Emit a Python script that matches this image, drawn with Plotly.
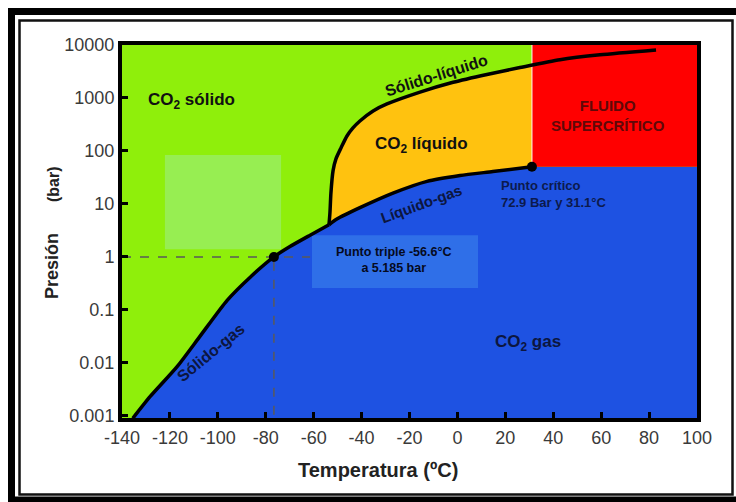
import math
import numpy as np
import plotly.graph_objects as go

# ---------------- data ----------------
# sublimation curve (solid-gas)
sg_temp = [-135.5, -128.3, -117.0, -107.4, -96.2, -86.6, -76.6, -69.9, -61.5, -53.6]
sg_pres = [0.0009, 0.0023, 0.0085, 0.032, 0.15, 0.41, 1.0, 1.57, 2.57, 4.05]
# vaporisation curve (liquid-gas)
lg_temp = [-53.6, -50.3, -40.7, -26.9, -12.7, 1.1, 14.8, 31.1]
lg_pres = [4.05, 5.2, 8.5, 16.0, 26.7, 34.4, 40.9, 50.4]
# melting curve (solid-liquid)
sl_temp = [-53.6, -53.2, -52.8, -51.9, -50.7, -48.6, -46.1, -43.6, -40.7, -35.2,
           -29.4, -15.6, -1.8, 12.3, 26.1, 42.8, 59.5, 82.9]
sl_pres = [4.05, 6.9, 16.0, 42.6, 71.0, 114.0, 192.0, 272.0, 368.0, 569.0,
           771.0, 1291.0, 1978.0, 2782.0, 3750.0, 5272.0, 6531.0, 8072.0]

subl_temp, subl_pres = -76.6, 1.0      # sublimation point at 1 bar
triple_temp, triple_pres = -53.6, 4.05
crit_temp, crit_pres = 31.1, 50.4

hl_box_temp = [-122.1, -73.6]
hl_box_pres = [1.39, 84.0]
info_box_temp = [-60.7, 8.6]
info_box_pres = [0.26, 2.57]
dash_end_temp = -61.5

x_ticks = [-140, -120, -100, -80, -60, -40, -20, 0, 20, 40, 60, 80, 100]
x_ticktext = ["-140", "-120", "-100", "-80", "-60", "-40", "-20", "0", "20", "40", "60", "80", "100"]
y_ticks = [0.001, 0.01, 0.1, 1, 10, 100, 1000, 10000]
y_ticktext = ["0.001", "0.01", "0.1", "1", "10", "100", "1000", "10000"]

# ---------------- styling ----------------
W, H = 736, 502
ML, MR, MT, MB = 122, 39, 45, 84
PW, PH = W - ML - MR, H - MT - MB

GREEN = "#8FEF0B"
LIGHT_GREEN = "#97EE52"
ORANGE = "#FFC20F"
RED = "#FF0000"
BLUE = "#1E52E2"
BOX_BLUE = "#2F6FE8"
FONT = "Liberation Sans, Arial, sans-serif"


def fx(px):
    return (px - ML) / PW


def fy(py):
    return (H - MB - py) / PH


fig = go.Figure()

X_LO, X_HI = -140, 100
Y_LO, Y_HI = 1e-4, 1e5

# gas region (blue)
gx = sg_temp + lg_temp[1:] + [X_HI + 5, X_HI + 5, sg_temp[0]]
gy = sg_pres + lg_pres[1:] + [crit_pres, Y_LO, Y_LO]
fig.add_trace(go.Scatter(x=gx, y=gy, fill="toself", fillcolor=BLUE, mode="none",
                         hoverinfo="skip", showlegend=False))

# liquid region (orange)
sl_at_crit = 10 ** np.interp(crit_temp, sl_temp, np.log10(sl_pres))
sl_left = [(t, p) for t, p in zip(sl_temp, sl_pres) if t < crit_temp]
lx = lg_temp + [crit_temp] + [t for t, _ in reversed(sl_left)]
ly = lg_pres + [sl_at_crit] + [p for _, p in reversed(sl_left)]
fig.add_trace(go.Scatter(x=lx, y=ly, fill="toself", fillcolor=ORANGE, mode="none",
                         hoverinfo="skip", showlegend=False))

# supercritical region (red)
fig.add_trace(go.Scatter(x=[crit_temp, X_HI + 5, X_HI + 5, crit_temp],
                         y=[crit_pres, crit_pres, Y_HI, Y_HI],
                         fill="toself", fillcolor=RED, mode="none",
                         hoverinfo="skip", showlegend=False))

# light separator at the critical temperature
fig.add_trace(go.Scatter(x=[crit_temp, crit_temp], y=[crit_pres, Y_HI], mode="lines",
                         line=dict(color="rgba(255,255,255,0.65)", width=1.5),
                         hoverinfo="skip", showlegend=False))

# light green highlight box
fig.add_trace(go.Scatter(x=[hl_box_temp[0], hl_box_temp[1], hl_box_temp[1], hl_box_temp[0]],
                         y=[hl_box_pres[0], hl_box_pres[0], hl_box_pres[1], hl_box_pres[1]],
                         fill="toself", fillcolor=LIGHT_GREEN, mode="none",
                         hoverinfo="skip", showlegend=False))

# triple point info box
fig.add_trace(go.Scatter(x=[info_box_temp[0], info_box_temp[1], info_box_temp[1], info_box_temp[0]],
                         y=[info_box_pres[0], info_box_pres[0], info_box_pres[1], info_box_pres[1]],
                         fill="toself", fillcolor=BOX_BLUE, mode="none",
                         hoverinfo="skip", showlegend=False))

# dashed guides to the 1 bar sublimation point
fig.add_trace(go.Scatter(x=[X_LO, dash_end_temp], y=[subl_pres, subl_pres], mode="lines",
                         line=dict(color="#5a5a5a", width=1.5, dash="dash"),
                         hoverinfo="skip", showlegend=False))
fig.add_trace(go.Scatter(x=[subl_temp, subl_temp], y=[Y_LO, subl_pres], mode="lines",
                         line=dict(color="#5a5a5a", width=1.5, dash="dash"),
                         hoverinfo="skip", showlegend=False))

# phase boundary curves
for xs, ys in [(sg_temp, sg_pres), (lg_temp, lg_pres), (sl_temp, sl_pres)]:
    fig.add_trace(go.Scatter(x=xs, y=ys, mode="lines",
                             line=dict(color="black", width=3.5, shape="spline", smoothing=0.6),
                             hoverinfo="skip", showlegend=False))

# points
fig.add_trace(go.Scatter(x=[subl_temp, crit_temp], y=[subl_pres, crit_pres], mode="markers",
                         marker=dict(color="black", size=10),
                         hoverinfo="skip", showlegend=False))


def ann(text, t, p, size, color="#111111", angle=0, bold=True, **kw):
    txt = f"<b>{text}</b>" if bold else text
    fig.add_annotation(x=t, y=math.log10(p), xref="x", yref="y", text=txt, showarrow=False,
                       textangle=angle, font=dict(family=FONT, size=size, color=color), **kw)


ann("CO<sub>2</sub> sólido", -110.8, 880, 17)
ann("Sólido-líquido", -8.9, 2667, 16, angle=-17.5)
ann("CO<sub>2</sub> líquido", -15.2, 130, 17)
ann("FLUIDO<br>SUPERCRÍTICO", 63.0, 464, 15, color="#600808")
ann("Líquido-gas", -14.8, 10, 15, color="#0c1640", angle=-20)
ann("Punto crítico<br>72.9 Bar y 31.1°C", 17.4, 15.5, 13, color="#0c1a4d",
    xanchor="left", align="left")
ann("Punto triple -56.6°C<br>a 5.185 bar", -26.5, 0.866, 12.5, color="#050a1e")
ann("Sólido-gas", -102.9, 0.0155, 16, color="#0c1640", angle=-39.5)
ann("CO<sub>2</sub> gas", 29.5, 0.024, 17, color="#0c1640")

# axis titles
fig.add_annotation(x=fx(52), y=fy(266), xref="paper", yref="paper", text="<b>Presión</b>",
                   xanchor="center", yanchor="middle",
                   textangle=-90, showarrow=False, font=dict(family=FONT, size=18, color="#222222"))
fig.add_annotation(x=fx(53), y=fy(184), xref="paper", yref="paper", text="<b>(bar)</b>",
                   xanchor="center", yanchor="middle",
                   textangle=-90, showarrow=False, font=dict(family=FONT, size=16, color="#222222"))
fig.add_annotation(x=fx(378), y=fy(470), xref="paper", yref="paper", text="<b>Temperatura (ºC)</b>",
                   xanchor="center", yanchor="middle",
                   showarrow=False, font=dict(family=FONT, size=20, color="#222222"))

# double frame around the picture
fig.add_shape(type="rect", xref="paper", yref="paper", x0=fx(11.5), x1=fx(760), y0=fy(500), y1=fy(11.5),
              line=dict(color="black", width=7), layer="above")
fig.add_shape(type="rect", xref="paper", yref="paper", x0=fx(19.5), x1=fx(732.5), y0=fy(494.5), y1=fy(20.5),
              line=dict(color="#111111", width=2.5), layer="above")

axis_common = dict(showline=True, linecolor="black", linewidth=4, mirror=True,
                   ticks="inside", ticklen=6, tickwidth=3, tickcolor="black",
                   showgrid=False, zeroline=False,
                   tickfont=dict(family=FONT, size=18, color="#3a3a3a"))

fig.update_layout(
    width=W, height=H,
    margin=dict(l=ML, r=MR, t=MT, b=MB),
    paper_bgcolor="white", plot_bgcolor=GREEN,
    showlegend=False,
    xaxis=dict(range=[X_LO, X_HI], tickvals=x_ticks, ticktext=x_ticktext, **axis_common),
    yaxis=dict(type="log", range=[-3.04, 4.0], tickvals=y_ticks, ticktext=y_ticktext, **axis_common),
)

fig.write_html("out.html")
